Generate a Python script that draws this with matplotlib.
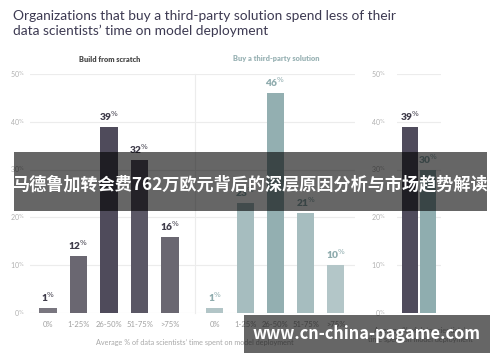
import matplotlib.pyplot as plt
from matplotlib.patches import Rectangle

categories = ['0%', '1-25%', '26-50%', '51-75%', '>75%']
build_vals = [1, 12, 39, 32, 16]
buy_vals = [1, 23, 46, 21, 10]
avg_labels = ['build', 'buy']
avg_vals = [39, 30]
y_ticks = [0, 10, 20, 30, 40, 50]

build_cols = ['#79767f', '#6a6771', '#4f4b5b', '#5a5765', '#6a6771']
buy_cols = ['#b2c5c7', '#a6bdbf', '#93afb1', '#a6bdbf', '#b3c6c8']
build_txt = '#3f3c4a'
buy_txt = '#8eabad'
grid_col = '#ececec'
tick_col = '#b0b0b0'

plt.rcParams['font.family'] = ['Lato', 'DejaVu Sans']

fig = plt.figure(figsize=(5, 3.62), dpi=100)
H = 362.0
bot = (H - 313) / H
top = (H - 74) / H
h = top - bot


def pct(v):
    return f'{v}$^{{\\%}}$'


def style(ax, xlim, show_left=False):
    ax.set_ylim(0, 50)
    ax.set_xlim(*xlim)
    for s in ['top', 'right', 'bottom']:
        ax.spines[s].set_visible(False)
    ax.spines['left'].set_visible(show_left)
    ax.spines['left'].set_color(grid_col)
    ax.spines['left'].set_linewidth(0.8)
    ax.set_yticks(y_ticks)
    ax.yaxis.grid(True, color=grid_col, lw=0.8)
    ax.set_axisbelow(True)
    ax.tick_params(length=0)


def bars(ax, vals, cols, txt, w):
    x = range(len(vals))
    ax.bar(x, vals, width=w, color=cols, zorder=2)
    for xi, v in zip(x, vals):
        ax.text(xi, v + 0.8, pct(v), ha='center', va='bottom', fontsize=7.3,
                fontweight='heavy', color=txt)


# left panel
ax1 = fig.add_axes([30 / 500, bot, 165 / 500, h])
style(ax1, (-0.59, 4.82))
bars(ax1, build_vals, build_cols, build_txt, 0.56)
ax1.set_yticklabels([pct(t) for t in y_ticks], fontsize=5, color=tick_col)
ax1.tick_params(axis='y', pad=4)
ax1.set_xticks(range(5))
ax1.set_xticklabels(categories, fontsize=5.5, color='#a0a0a0')
ax1.tick_params(axis='x', pad=6)

# middle panel
ax2 = fig.add_axes([195 / 500, bot, 160 / 500, h])
style(ax2, (-0.66, 4.63), show_left=True)
bars(ax2, buy_vals, buy_cols, buy_txt, 0.56)
ax2.set_yticklabels([])
ax2.set_xticks(range(5))
ax2.set_xticklabels(categories, fontsize=5.5, color='#a0a0a0')
ax2.tick_params(axis='x', pad=6)

# right panel
ax3 = fig.add_axes([397 / 500, bot, 44 / 500, h])
style(ax3, (-0.72, 1.72))
ax3.bar([0, 1], avg_vals, width=0.89, color=['#4f4b5c', '#8fadaf'], zorder=2)
for xi, v, c in zip([0, 1], avg_vals, [build_txt, buy_txt]):
    ax3.text(xi, v + 0.8, pct(v), ha='center', va='bottom', fontsize=7.3,
             fontweight='heavy', color=c)
ax3.set_yticklabels([pct(t) for t in y_ticks], fontsize=5, color=tick_col)
ax3.tick_params(axis='y', pad=8)
ax3.set_xticks([])

# texts
fig.text(13 / 500, 1 - 16 / H, 'Organizations that buy a third-party solution spend less of their',
         fontsize=9.9, color='#3d3a52', va='center', ha='left')
fig.text(13 / 500, 1 - 31 / H, 'data scientists\u2019 time on model deployment',
         fontsize=9.9, color='#3d3a52', va='center', ha='left')
fig.text(110 / 500, 1 - 59 / H, 'Build from scratch', fontsize=5.3, fontweight='heavy',
         color='#4a4a4a', ha='center', va='center')
fig.text(276 / 500, 1 - 59 / H, 'Buy a third-party solution', fontsize=5.3, fontweight='heavy',
         color='#9ab3b5', ha='center', va='center')
fig.text(195 / 500, 1 - 343 / H, 'Average % of data scientists\u2019 time spent on model deployment',
         fontsize=5.2, color='#a8a8a8', ha='center', va='center')
fig.text(420 / 500, 1 - 335 / H, 'Average % of data scientists\u2019\ntime spent on model deployment',
         fontsize=5.2, color='#a8a8a8', ha='center', va='center', linespacing=1.3)

# overlays
fig.patches.append(Rectangle((14 / 500, (H - 211) / H), 473 / 500, 59 / H,
                             transform=fig.transFigure, facecolor='black', alpha=0.6,
                             edgecolor='none', zorder=10))
fig.text(250 / 500, 1 - 184 / H, '马德鲁加转会费762万欧元背后的深层原因分析与市场趋势解读',
         fontsize=12.3, fontweight='bold', color='white', ha='center', va='center',
         family=['Noto Sans CJK SC', 'DejaVu Sans'], zorder=11)
fig.patches.append(Rectangle((244 / 500, (H - 353) / H), 246 / 500, 38 / H,
                             transform=fig.transFigure, facecolor='black', alpha=0.6,
                             edgecolor='none', zorder=10))
fig.text(367 / 500, 1 - 334 / H, 'www.cn-china-pagame.com', fontsize=11.8, fontweight='bold',
         color='white', ha='center', va='center',
         family=['Noto Sans CJK SC', 'DejaVu Sans'], zorder=11)

fig.savefig('out.png', dpi=100)
